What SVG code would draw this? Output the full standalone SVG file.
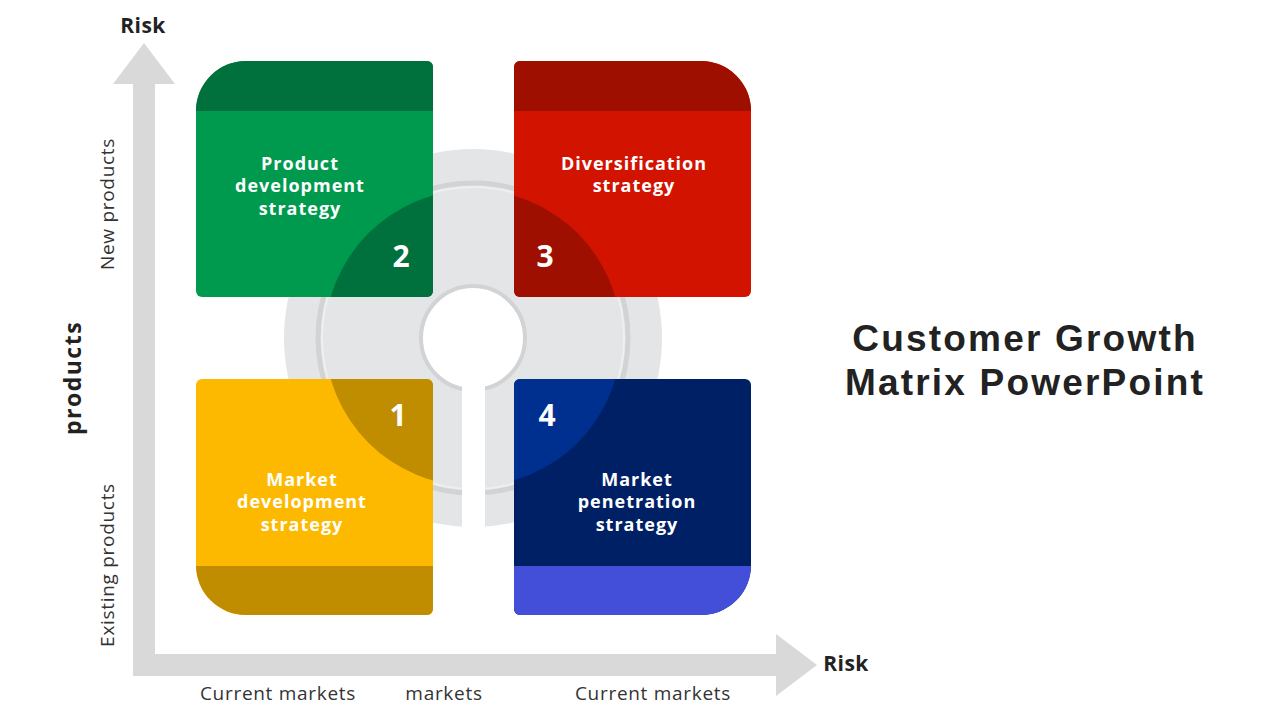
<svg xmlns="http://www.w3.org/2000/svg" width="1280" height="720" viewBox="0 0 1280 720">
<defs>
<style>
.lbl{font-family:"Open Sans","Liberation Sans",sans-serif;font-weight:700;font-size:18px;letter-spacing:1px;fill:#fff;text-anchor:middle}
.num{font-family:"Open Sans","Liberation Sans",sans-serif;font-weight:700;font-size:30px;fill:#fff;text-anchor:middle}
.ax{font-family:"Open Sans","Liberation Sans",sans-serif;font-weight:400;font-size:19px;letter-spacing:0.7px;fill:#333;text-anchor:middle}
.axb{font-family:"Open Sans","Liberation Sans",sans-serif;font-weight:700;font-size:21px;letter-spacing:0.5px;fill:#222;text-anchor:middle}
.axp{font-family:"Open Sans","Liberation Sans",sans-serif;font-weight:700;font-size:23px;letter-spacing:1.5px;fill:#222;text-anchor:middle}
.title{font-family:"Liberation Sans",Arial,sans-serif;font-weight:700;font-size:37px;letter-spacing:2.2px;fill:#222;text-anchor:middle}
.arrow{fill:#D9D9D9}
</style>
<path id="pg" d="M246,61 H427 A6,6 0 0 1 433,67 V291 A6,6 0 0 1 427,297 H202 A6,6 0 0 1 196,291 V111 A50,50 0 0 1 246,61 Z"/>
<path id="pr" d="M520,61 H701 A50,50 0 0 1 751,111 V291 A6,6 0 0 1 745,297 H520 A6,6 0 0 1 514,291 V67 A6,6 0 0 1 520,61 Z"/>
<path id="py" d="M202,379 H427 A6,6 0 0 1 433,385 V609 A6,6 0 0 1 427,615 H246 A50,50 0 0 1 196,565 V385 A6,6 0 0 1 202,379 Z"/>
<path id="pb" d="M520,379 H745 A6,6 0 0 1 751,385 V565 A50,50 0 0 1 701,615 H520 A6,6 0 0 1 514,609 V385 A6,6 0 0 1 520,379 Z"/>
<clipPath id="cg"><use href="#pg"/></clipPath>
<clipPath id="cr"><use href="#pr"/></clipPath>
<clipPath id="cy"><use href="#py"/></clipPath>
<clipPath id="cb"><use href="#pb"/></clipPath>
</defs>
<rect width="1280" height="720" fill="#fff"/>

<g id="axes">
<rect class="arrow" x="133" y="82" width="22" height="594"/>
<polygon class="arrow" points="113,84 144,43 175,84"/>
<rect class="arrow" x="133" y="654" width="645" height="22"/>
<polygon class="arrow" points="776,634 817,665 776,696"/>
<text class="axb" x="143" y="33">Risk</text>
<text class="axb" x="846" y="671">Risk</text>
<text class="ax" transform="translate(114,204) rotate(-90)">New products</text>
<text class="axp" transform="translate(81,378) rotate(-90)">products</text>
<text class="ax" transform="translate(114,565) rotate(-90)">Existing products</text>
<text class="ax" x="278" y="700">Current markets</text>
<text class="ax" x="444" y="700">markets</text>
<text class="ax" x="653" y="700">Current markets</text>
</g>

<g id="center">
<circle cx="473" cy="338" r="189" fill="#E4E5E7"/>
<circle cx="473" cy="338" r="155" fill="none" stroke="#D2D3D5" stroke-width="5"/>
<circle cx="473" cy="338" r="151" fill="none" stroke="#EEEFF0" stroke-width="2"/>
<circle cx="473" cy="338" r="52" fill="#fff" stroke="#D2D3D5" stroke-width="4"/>
<rect x="462" y="384" width="23" height="143" fill="#fff"/>
</g>

<g id="q2">
<use href="#pg" fill="#009A4E"/>
<g clip-path="url(#cg)">
<rect x="190" y="55" width="250" height="56" fill="#00703C"/>
<circle cx="473" cy="338" r="148" fill="#00703C"/>
</g>
<text class="lbl" x="300" y="170">Product</text>
<text class="lbl" x="300" y="192">development</text>
<text class="lbl" x="300" y="215">strategy</text>
<text class="num" x="401" y="267">2</text>
</g>

<g id="q3">
<use href="#pr" fill="#D11300"/>
<g clip-path="url(#cr)">
<rect x="508" y="55" width="250" height="56" fill="#9E0F00"/>
<circle cx="473" cy="338" r="148" fill="#9E0F00"/>
</g>
<text class="lbl" x="634" y="170">Diversification</text>
<text class="lbl" x="634" y="192">strategy</text>
<text class="num" x="545" y="267">3</text>
</g>

<g id="q1">
<use href="#py" fill="#FDB900"/>
<g clip-path="url(#cy)">
<rect x="190" y="566" width="250" height="56" fill="#C08C00"/>
<circle cx="473" cy="338" r="148" fill="#C08C00"/>
</g>
<text class="lbl" x="302" y="486">Market</text>
<text class="lbl" x="302" y="508">development</text>
<text class="lbl" x="302" y="531">strategy</text>
<text class="num" x="398" y="426">1</text>
</g>

<g id="q4">
<use href="#pb" fill="#002066"/>
<g clip-path="url(#cb)">
<rect x="508" y="566" width="250" height="56" fill="#434ED9"/>
<circle cx="473" cy="338" r="148" fill="#00308F"/>
</g>
<text class="lbl" x="637" y="486">Market</text>
<text class="lbl" x="637" y="508">penetration</text>
<text class="lbl" x="637" y="531">strategy</text>
<text class="num" x="547" y="426">4</text>
</g>

<g id="title">
<text class="title" x="1025" y="351">Customer Growth</text>
<text class="title" x="1025" y="395">Matrix PowerPoint</text>
</g>
</svg>
